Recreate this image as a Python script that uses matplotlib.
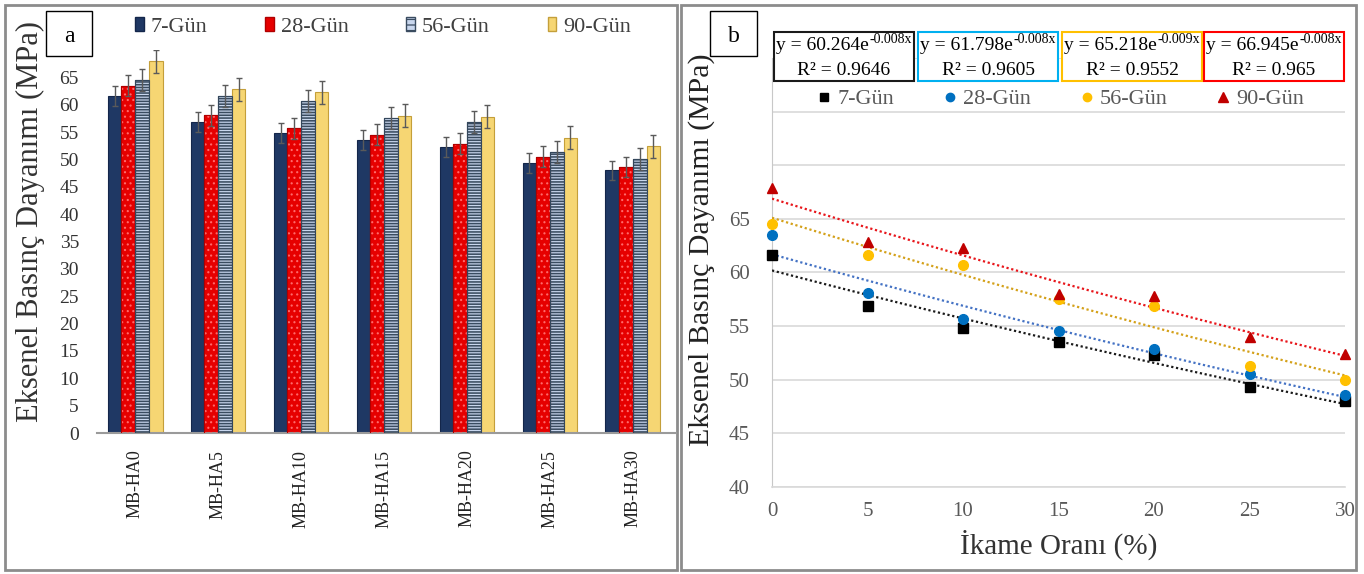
import matplotlib
matplotlib.use('Agg')
import matplotlib.pyplot as plt
import numpy as np
from matplotlib.patches import Rectangle, Patch
from matplotlib.lines import Line2D

plt.rcParams['font.family'] = ['Liberation Serif', 'DejaVu Serif']
plt.rcParams['hatch.linewidth'] = 0.9

# ---------------- data ----------------
categories = ['MB-HA0', 'MB-HA5', 'MB-HA10', 'MB-HA15', 'MB-HA20', 'MB-HA25', 'MB-HA30']
series_names = ['7-Gün', '28-Gün', '56-Gün', '90-Gün']
replacement = [0, 5, 10, 15, 20, 25, 30]
g7 = [61.6, 56.9, 54.8, 53.5, 52.3, 49.3, 48.0]
g28 = [63.5, 58.1, 55.7, 54.5, 52.9, 50.5, 48.6]
g56 = [64.5, 61.6, 60.7, 57.5, 56.9, 51.3, 50.0]
g90 = [67.9, 62.8, 62.3, 58.0, 57.8, 54.0, 52.4]
err7 = [1.8, 1.8, 1.8, 1.8, 1.8, 1.8, 1.8]
err28 = [1.9, 1.9, 1.9, 1.9, 1.9, 1.9, 1.9]
err56 = [2.0, 2.0, 2.0, 2.0, 2.0, 2.0, 2.0]
err90 = [2.1, 2.1, 2.1, 2.1, 2.1, 2.1, 2.1]
eq_base = ['y = 60.264e', 'y = 61.798e', 'y = 65.218e', 'y = 66.945e']
eq_exp = ['-0.008x', '-0.008x', '-0.009x', '-0.008x']
r2_texts = ['R² = 0.9646', 'R² = 0.9605', 'R² = 0.9552', 'R² = 0.965']
left_yticks = [0, 5, 10, 15, 20, 25, 30, 35, 40, 45, 50, 55, 60, 65]
right_yticks = [40, 45, 50, 55, 60, 65]
right_xticks = [0, 5, 10, 15, 20, 25, 30]
ylabel_text = 'Eksenel Basınç Dayanımı (MPa)'
xlabel_text = 'İkame Oranı (%)'

W, H = 1364, 574
fig = plt.figure(figsize=(W / 100, H / 100), dpi=100)
fig.patch.set_facecolor('white')


def fx(px):
    return px / W


def fy(py):
    return 1 - py / H


def frect(x0, y0, x1, y1, **kw):
    r = Rectangle((fx(x0), fy(y1)), (x1 - x0) / W, (y1 - y0) / H,
                  transform=fig.transFigure, **kw)
    fig.add_artist(r)
    return r


# panel frames
frect(5, 5, 677, 570, fill=False, ec='#8C8C8C', lw=2, zorder=0)
frect(681, 5, 1356, 570, fill=False, ec='#8C8C8C', lw=2, zorder=0)

# ---------------- left panel: bars ----------------
ax1 = fig.add_axes([fx(97), fy(433), (676 - 97) / W, (433 - 50) / H])
ax1.set_xlim(-0.46, 6.52)
ax1.set_ylim(0, 70)
x = np.arange(len(categories))
w = 0.165
vals = [g7, g28, g56, g90]
errs = [err7, err28, err56, err90]
faces = ['#1F3864', '#E60000', '#C9D7EE', '#F6D673']
edges = ['#14264A', '#B00000', '#34475C', '#C49F3A']
hatches = [None, '...', '------', None]
hatch_cols = [None, '#FF6A6A', '#3A4C60', None]
hatch_lws = [None, 0.8, 1.15, None]
for i in range(4):
    xi = x + (i - 1.5) * w
    ax1.bar(xi, vals[i], width=w, color=faces[i], edgecolor=edges[i], lw=0.8, zorder=2)
    if hatches[i]:
        cont = ax1.bar(xi, vals[i], width=w, facecolor='none', edgecolor=hatch_cols[i],
                       hatch=hatches[i], lw=0, zorder=3)
        for p in cont:
            if hasattr(p, 'set_hatch_linewidth'):
                p.set_hatch_linewidth(hatch_lws[i])
        ax1.bar(xi, vals[i], width=w, facecolor='none', edgecolor=edges[i], lw=0.8, zorder=3)
    ax1.errorbar(xi, vals[i], yerr=errs[i], fmt='none', ecolor='#5A5A5A',
                 elinewidth=1, capsize=2.5, capthick=1, zorder=4)

for s in ['top', 'right', 'left']:
    ax1.spines[s].set_visible(False)
ax1.spines['bottom'].set_color('#9A9A9A')
ax1.spines['bottom'].set_linewidth(1.5)
ax1.set_yticks(left_yticks)
ax1.set_xticks(x)
ax1.set_xticklabels(categories, rotation=90, fontsize=13, color='#222222')
ax1.tick_params(axis='y', length=0, pad=13, labelsize=14, labelcolor='#333333')
ax1.tick_params(axis='x', length=0, pad=12)
fig.text(fx(30), fy(222), ylabel_text, rotation=90, ha='center', va='center',
         fontsize=22, color='#333333')

handles1 = [Patch(facecolor=faces[0], edgecolor=edges[0]),
            Patch(facecolor=faces[1], edgecolor=edges[1]),
            Patch(facecolor=faces[2], edgecolor=hatch_cols[2], hatch='---'),
            Patch(facecolor=faces[3], edgecolor=edges[3])]
fig.legend(handles1, series_names, loc='center', bbox_to_anchor=(fx(383), fy(27)),
           ncol=4, frameon=False, fontsize=16, handlelength=0.4, handleheight=0.55,
           handletextpad=0.3, columnspacing=2.6, labelcolor='#404040')

# "a" box
frect(46, 11, 92, 56, facecolor='white', ec='black', lw=1, zorder=10)
fig.text(fx(69), fy(36), 'a', ha='center', va='center', fontsize=17, zorder=11)

# ---------------- right panel: scatter + exp trend ----------------
ax2 = fig.add_axes([fx(772), fy(487), (1345 - 772) / W, (487 - 58) / H])
ax2.set_xlim(0, 30)
ax2.set_ylim(40, 80)
ax2.set_yticks(np.arange(40, 81, 5))
ax2.set_yticklabels([str(t) if t in right_yticks else '' for t in np.arange(40, 81, 5)])
ax2.set_xticks(right_xticks)
ax2.grid(axis='y', color='#D9D9D9', lw=1.2, zorder=0)
for s in ['top', 'right']:
    ax2.spines[s].set_visible(False)
ax2.spines['left'].set_color('#C8C8C8')
ax2.spines['bottom'].set_color('#D9D9D9')
ax2.spines['bottom'].set_linewidth(1.2)
ax2.tick_params(length=0, labelsize=15, labelcolor='#595959')
ax2.tick_params(axis='y', pad=16)
ax2.tick_params(axis='x', pad=11)
ax2.set_xlabel(xlabel_text, fontsize=21, color='#333333', labelpad=6)

mcolors = ['#000000', '#0070C0', '#FFC000', '#C00000']
lcolors = ['#1A1A1A', '#4472C4', '#D4A11A', '#E8161B']
markers = ['s', 'o', 'o', '^']
msizes = [7, 7, 7, 7.5]
xr = np.array(replacement, dtype=float)
xs = np.linspace(0, 30, 100)
for i in range(4):
    yv = np.array(vals[i])
    b, lna = np.polyfit(xr, np.log(yv), 1)
    ax2.plot(xs, np.exp(lna) * np.exp(b * xs), ls=(0, (1, 1.2)), color=lcolors[i], lw=1.6, zorder=3)
for i in range(4):
    ax2.plot(xr, vals[i], ls='none', marker=markers[i], ms=msizes[i], color=mcolors[i],
             mec=mcolors[i], clip_on=False, zorder=4)

fig.text(fx(702), fy(250), ylabel_text, rotation=90, ha='center', va='center',
         fontsize=21.5, color='#222222')

handles2 = [Line2D([], [], ls='none', marker=markers[i], ms=6 if i < 3 else 6.5,
                   color=mcolors[i]) for i in range(4)]
fig.legend(handles2, series_names, loc='center', bbox_to_anchor=(fx(1061), fy(99)),
           ncol=4, frameon=False, fontsize=16, handlelength=0.6, handletextpad=0.3,
           columnspacing=2.2, labelcolor='#595959')

# equation boxes
box_x = [(774, 914), (918, 1058), (1062, 1202), (1204, 1344)]
box_cols = ['#1A1A1A', '#00B0F0', '#FFC000', '#FF0000']
renderer = fig.canvas.get_renderer()
for i in range(4):
    x0, x1 = box_x[i]
    cx = (x0 + x1) / 2
    frect(x0, 32, x1, 81, facecolor='white', ec=box_cols[i], lw=1.5, zorder=10)
    t1 = fig.text(0, fy(50), eq_base[i], ha='left', va='baseline', fontsize=14, zorder=11)
    t2 = fig.text(0, fy(43), eq_exp[i], ha='left', va='baseline', fontsize=10, zorder=11)
    w1 = t1.get_window_extent(renderer).width
    w2 = t2.get_window_extent(renderer).width
    left = cx - (w1 + w2) / 2
    t1.set_x(fx(left))
    t2.set_x(fx(left + w1))
    fig.text(fx(cx), fy(75), r2_texts[i], ha='center', va='baseline',
             fontsize=14, zorder=11)

# "b" box
frect(710, 11, 757, 56, facecolor='white', ec='black', lw=1, zorder=10)
fig.text(fx(733.5), fy(36), 'b', ha='center', va='center', fontsize=17, zorder=11)

fig.savefig('out.png', dpi=100, facecolor='white')
